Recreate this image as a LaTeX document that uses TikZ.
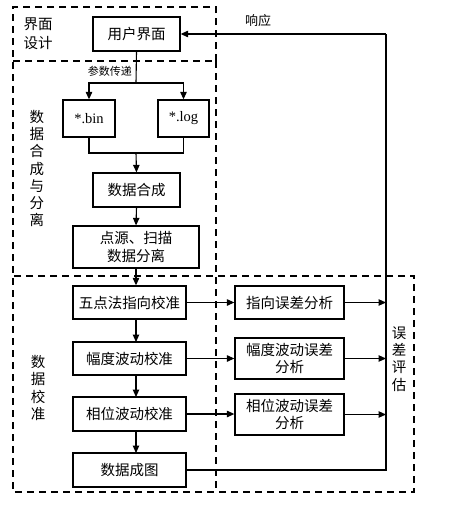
\documentclass[tikz,border=0pt]{standalone}
\usepackage{fontspec}
\setmainfont{Liberation Serif}
\newfontfamily\cjk{Noto Sans CJK SC}
\usetikzlibrary{arrows.meta}
\begin{document}
\begin{tikzpicture}[x=1pt,y=-1pt,
 box/.style={draw, line width=1.3pt, inner sep=0pt, font=\cjk\fontsize{14.5}{17.5}\selectfont, align=center},
 conn/.style={line width=1.1pt},
 arr/.style={conn, -{Triangle[length=7.5pt,width=6.5pt]}},
 region/.style={line width=1.5pt, dash pattern=on 7pt off 5pt},
 side/.style={font=\cjk\fontsize{14.5}{17.3}\selectfont, align=center, inner sep=0pt},
 lbl/.style={font=\cjk\fontsize{11}{13}\selectfont, inner sep=0pt}]
\useasboundingbox (0,0) rectangle (452,507);
% regions
\draw[region] (216,61) -- (216,7) -- (13,7) -- (13,492) -- (414,492) -- (414,276) -- (13,276);
\draw[region] (13,61) -- (216,61);
\draw[region] (216,61) -- (216,492);
% side labels
\node[side, font=\cjk\fontsize{14.5}{19}\selectfont] (sd1) at (38,33.5) {界面\\设计};
\node[side] (sd2) at (37,168.5) {数\\据\\合\\成\\与\\分\\离};
\node[side] (sd3) at (38,388) {数\\据\\校\\准};
\node[side] (sd4) at (399,359) {误\\差\\评\\估};
% boxes
\node[box, minimum width=87pt, minimum height=34pt] (ui) at (136.5,34) {用户界面};
\node[box, minimum width=52pt, minimum height=37pt, font=\fontsize{14.5}{16}\selectfont] (bin) at (89,118.5) {*.bin};
\node[box, minimum width=51pt, minimum height=37pt, font=\fontsize{14.5}{16}\selectfont] (log) at (183.5,118.5) {*.log};
\node[box, minimum width=87pt, minimum height=34pt] (mg) at (136.5,190) {数据合成};
\node[box, minimum width=126pt, minimum height=42pt] (sp) at (136,247) {点源、扫描\\数据分离};
\node[box, minimum width=113pt, minimum height=33pt] (c1) at (129.5,302.5) {五点法指向校准};
\node[box, minimum width=113pt, minimum height=33pt] (c2) at (129.5,358.5) {幅度波动校准};
\node[box, minimum width=113pt, minimum height=34pt] (c3) at (129.5,414) {相位波动校准};
\node[box, minimum width=113pt, minimum height=34pt] (c4) at (129.5,470) {数据成图};
\node[box, minimum width=109pt, minimum height=33pt] (e1) at (289.5,302.5) {指向误差分析};
\node[box, minimum width=109pt, minimum height=41pt] (e2) at (289.5,358.5) {幅度波动误差\\分析};
\node[box, minimum width=109pt, minimum height=41pt] (e3) at (289.5,414.5) {相位波动误差\\分析};
% labels
\node[lbl, anchor=east] (pl) at (132,71) {参数传递};
\node[side, font=\cjk\fontsize{13}{15}\selectfont] (rl) at (258,21) {响应};
% coordinates
\coordinate (sa) at (136,83);
\coordinate (ma) at (136,153);
\coordinate (r1) at (386,302.5);
\coordinate (r2) at (386,358.5);
\coordinate (r3) at (386,414.5);
\coordinate (rb) at (386,470);
\coordinate (rt) at (386,34);
% connectors
\draw[conn] (ui.south) -- (sa);
\draw[arr] (sa) -| (bin.north);
\draw[arr] (sa) -| (log.north);
\draw[conn] (bin.south) |- (ma);
\draw[conn] (log.south) |- (ma);
\draw[arr] (ma) -- (mg.north);
\draw[arr] (mg.south) -- (sp.north);
\draw[arr] (sp.south) -- (sp.south |- c1.north);
\draw[arr] (136,319) -- (136,342);
\draw[arr] (136,375) -- (136,397);
\draw[arr] (136,431) -- (136,453);
\draw[arr] (c1.east) -- (e1.west);
\draw[arr] (c2.east) -- (c2.east -| e2.west);
\draw[arr] (c3.east) -- (c3.east -| e3.west);
\draw[arr] (e1.east) -- (r1);
\draw[arr] (e2.east) -- (r2);
\draw[arr] (e3.east) -- (r3);
\draw[conn] (c4.east) -- (rb) -- (rt);
\draw[arr] (rt) -- (ui.east);
\end{tikzpicture}
\end{document}
